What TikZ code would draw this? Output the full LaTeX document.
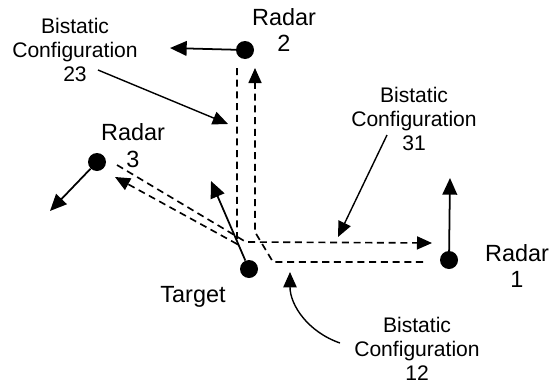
\documentclass[tikz,border=0pt]{standalone}
\usepackage{fontspec}
\setmainfont{Liberation Sans}
\usetikzlibrary{arrows.meta}
\tikzset{
  dot/.style={circle, fill=black, inner sep=0pt, minimum size=0.54cm},
  radarlbl/.style={align=center, inner sep=0pt, font=\fontsize{20}{23}\selectfont},
  cfglbl/.style={align=center, inner sep=0pt, font=\fontsize{18}{20.5}\selectfont},
  motion/.style={-{Triangle[length=5mm,width=4.4mm]}, line width=1.5pt},
  echo/.style={dash pattern=on 6pt off 4pt, line width=1.4pt},
  echoend/.style={echo, -{Triangle[length=4.5mm,width=3.9mm]}},
  pointer/.style={-{Triangle[length=4.6mm,width=4mm]}, line width=1.2pt}
}
\begin{document}
\begin{tikzpicture}[x=0.03cm, y=-0.03cm]
  \useasboundingbox (0,0) rectangle (559,390);

  % radars and target
  \node[dot] (r1) at (449,260) {};
  \node[dot] (r2) at (245,50) {};
  \node[dot] (r3) at (97,162) {};
  \node[dot] (tgt) at (249,269) {};

  \node[radarlbl] (r1lbl) at (517,266) {Radar\\1};
  \node[radarlbl] (r2lbl) at (284,30) {Radar\\2};
  \node[radarlbl] (r3lbl) at (133,146) {Radar\\3};
  \node[radarlbl] (tgtlbl) at (193,297) {Target};

  % motion vectors
  \coordinate (r1v) at (450,178);
  \coordinate (r2v) at (170,48);
  \coordinate (r3v) at (50,211);
  \coordinate (tgtv) at (211,181);
  \draw[motion] (r1) -- (r1v);
  \draw[motion] (r2) -- (r2v);
  \draw[motion] (r3) -- (r3v);
  \draw[motion] (tgt) -- (tgtv);

  % bistatic paths
  \coordinate (p23a) at (237,68);
  \coordinate (p23b) at (237,244);
  \coordinate (p23c) at (115,177);
  \draw[echoend] (p23a) -- (p23b) -- (p23c);

  \coordinate (p31a) at (117,165);
  \coordinate (p31b) at (246,242);
  \coordinate (p31c) at (432,243);
  \draw[echoend] (p31a) -- (p31b) -- (p31c);

  \coordinate (p12a) at (423,262);
  \coordinate (p12b) at (273,262);
  \coordinate (p12c) at (255,232);
  \coordinate (p12d) at (255,68);
  \draw[echoend] (p12a) -- (p12b) -- (p12c) -- (p12d);

  % configuration labels
  \node[cfglbl] (c23) at (75,50) {Bistatic\\Configuration\\23};
  \node[cfglbl] (c31) at (414,119) {Bistatic\\Configuration\\31};
  \node[cfglbl] (c12) at (417,349) {Bistatic\\Configuration\\12};

  \coordinate (c23s) at (98,70);
  \coordinate (c23t) at (228,124);
  \coordinate (c31s) at (387,135);
  \coordinate (c31t) at (338,237);
  \coordinate (c12s) at (340,343);
  \coordinate (c12t) at (290,272);
  \draw[pointer] (c23s) -- (c23t);
  \draw[pointer] (c31s) -- (c31t);
  \draw[pointer] (c12s) .. controls (308,332) and (290,305) .. (c12t);
\end{tikzpicture}
\end{document}
